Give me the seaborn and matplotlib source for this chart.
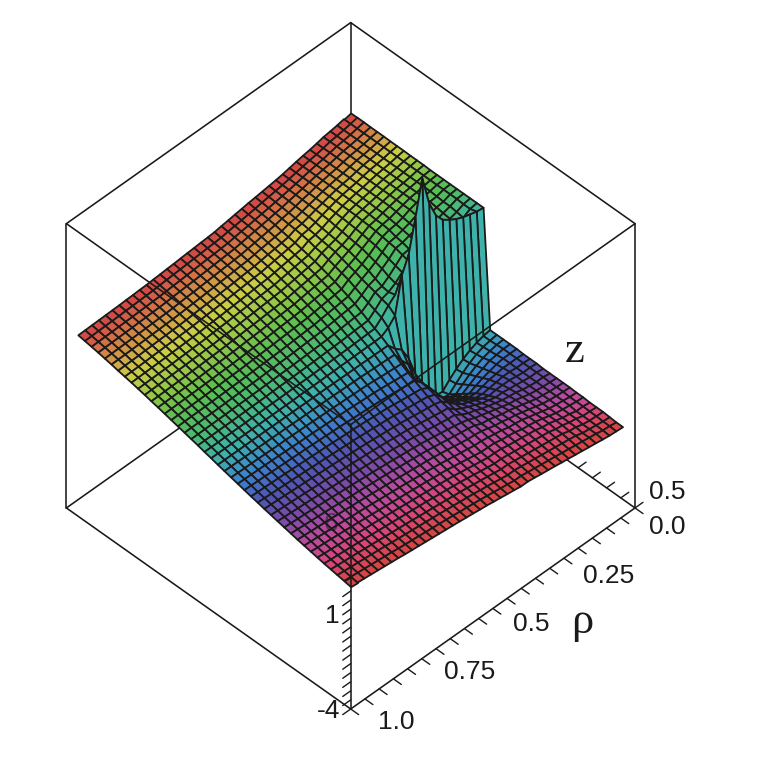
import matplotlib
matplotlib.use('Agg')
import matplotlib.pyplot as plt
from mpl_toolkits.mplot3d.art3d import Poly3DCollection
import numpy as np
import seaborn as sns

# ==== DATA ====
# one row per rho mesh line, one column per z mesh line, values on the vertical axis
HEIGHTS = [
[.45,.45,.48,.51,.51,.51,.54,.54,.56,.56,.56,.56,.56,.59,.59,.59,.62,.62,.62,.62,.62,7.10,7.10,7.10,7.10,7.10,7.10,7.10,7.10,7.10,7.12,7.12,7.12,7.13,7.13,7.13,7.14,7.14,7.14,7.15,7.15,7.15],
[.48,.51,.51,.54,.54,.56,.56,.56,.59,.59,.59,.62,.62,.62,.62,.62,.62,.62,.59,.56,.56,7.15,7.04,7.04,7.07,7.07,7.07,7.07,7.07,7.07,7.07,7.07,7.07,7.07,7.07,7.07,7.07,7.07,7.07,7.07,7.07,7.07],
[.51,.54,.56,.56,.56,.56,.62,.62,.62,.62,.62,.62,.62,.62,.62,.62,.62,.56,.51,.48,.45,7.26,6.82,6.88,6.93,6.93,6.96,6.99,6.99,6.99,6.99,6.99,6.99,6.99,6.99,6.99,6.99,6.99,6.99,6.99,6.99,6.99],
[.56,.62,.62,.62,.67,.67,.67,.67,.67,.67,.67,.67,.67,.67,.67,.62,.56,.51,.40,.34,.29,7.37,6.66,6.77,6.82,6.88,6.93,6.93,6.93,6.93,6.93,6.93,6.93,6.93,6.93,6.93,6.93,6.93,6.93,6.93,6.93,6.93],
[.62,.67,.67,.73,.73,.73,.73,.73,.73,.73,.73,.73,.73,.73,.67,.56,.45,.34,.23,.12,.07,7.54,6.44,6.60,6.71,6.77,6.82,6.88,6.88,6.88,6.88,6.88,6.88,6.88,6.88,6.88,6.88,6.88,6.88,6.88,6.88,6.88],
[.67,.73,.78,.78,.84,.84,.84,.84,.84,.84,.84,.84,.78,.73,.62,.51,.34,.18,.01,-.15,-.21,7.76,6.27,6.44,6.55,6.60,6.71,6.77,6.77,6.79,6.80,6.80,6.80,6.80,6.80,6.80,6.80,6.80,6.80,6.80,6.79,6.79],
[.73,.78,.84,.89,.89,.95,.95,.95,.95,.95,.95,.89,.84,.73,.56,.40,.18,-.04,-.26,-.48,-.54,8.03,6.05,6.27,6.38,6.49,6.55,6.60,6.66,6.70,6.71,6.71,6.71,6.71,6.71,6.71,6.71,6.71,6.71,6.71,6.71,6.71],
[.78,.84,.89,.95,1.00,1.00,1.05,1.05,1.05,1.05,1.00,.95,.84,.67,.51,.29,.01,-.26,-.54,-.81,-.92,8.53,5.89,6.11,6.27,6.38,6.44,6.49,6.55,6.60,6.60,6.63,6.64,6.65,6.65,6.65,6.65,6.65,6.65,6.65,6.65,6.65],
[.84,.89,.95,1.00,1.05,1.11,1.11,1.16,1.16,1.16,1.11,1.05,.95,.78,.56,.34,.07,-.21,-.48,-.76,-.87,9.46,5.78,6.00,6.16,6.27,6.33,6.44,6.49,6.49,6.53,6.55,6.56,6.57,6.58,6.58,6.58,6.58,6.58,6.58,6.58,6.58],
[.89,.95,1.00,1.05,1.11,1.16,1.16,1.22,1.22,1.22,1.22,1.16,1.05,.95,.73,.56,.40,.07,-.26,-.48,-.32,11.11,6.16,6.00,6.11,6.22,6.27,6.33,6.38,6.42,6.44,6.47,6.47,6.48,6.49,6.49,6.50,6.50,6.50,6.50,6.50,6.50],
[.95,1.00,1.05,1.11,1.16,1.22,1.27,1.27,1.33,1.33,1.33,1.27,1.22,1.11,.95,.78,.62,.23,-.15,-.26,.40,9.19,5.78,5.67,5.78,5.89,6.00,6.11,6.16,6.22,6.27,6.30,6.33,6.35,6.37,6.38,6.39,6.40,6.41,6.41,6.42,6.42],
[1.00,1.05,1.11,1.16,1.22,1.27,1.33,1.38,1.38,1.44,1.44,1.44,1.38,1.27,1.16,1.00,.84,.40,.01,.18,1.11,7.43,5.45,5.34,5.45,5.62,5.73,5.84,5.95,6.00,6.05,6.11,6.16,6.22,6.25,6.28,6.30,6.32,6.33,6.34,6.35,6.36],
[1.05,1.11,1.16,1.22,1.27,1.33,1.38,1.44,1.49,1.49,1.55,1.55,1.55,1.55,1.49,1.41,1.33,.89,.62,1.16,2.26,6.55,5.23,5.12,5.18,5.34,5.51,5.62,5.73,5.84,5.89,5.95,6.00,6.05,6.11,6.16,6.19,6.22,6.25,6.27,6.29,6.31],
[1.11,1.16,1.22,1.27,1.33,1.41,1.47,1.52,1.60,1.66,1.71,1.74,1.77,1.88,1.93,1.96,1.99,1.66,1.77,2.43,2.98,4.60,4.90,5.00,5.12,5.22,5.32,5.45,5.56,5.67,5.78,5.84,5.89,5.95,6.00,6.05,6.09,6.13,6.17,6.20,6.23,6.26],
[1.16,1.22,1.27,1.33,1.38,1.44,1.49,1.58,1.66,1.74,1.82,1.99,2.10,2.21,2.32,2.43,2.48,2.43,2.59,2.92,3.31,4.20,4.50,4.65,4.80,4.96,5.12,5.29,5.40,5.51,5.62,5.73,5.78,5.89,5.95,6.00,6.03,6.07,6.11,6.14,6.18,6.21],
[1.16,1.22,1.27,1.33,1.38,1.44,1.50,1.60,1.69,1.80,1.90,2.02,2.15,2.32,2.48,2.65,2.84,3.03,3.25,3.50,3.75,3.97,4.16,4.35,4.55,4.74,4.90,5.04,5.18,5.31,5.42,5.53,5.62,5.70,5.78,5.84,5.91,5.98,6.04,6.08,6.11,6.17],
[1.22,1.28,1.33,1.39,1.44,1.51,1.57,1.67,1.76,1.87,1.97,2.09,2.22,2.38,2.54,2.70,2.88,3.07,3.28,3.52,3.75,3.96,4.15,4.33,4.52,4.70,4.85,4.99,5.13,5.25,5.36,5.47,5.56,5.64,5.72,5.78,5.85,5.92,5.98,6.02,6.06,6.11],
[1.27,1.33,1.39,1.45,1.50,1.57,1.64,1.73,1.83,1.93,2.04,2.15,2.28,2.43,2.59,2.75,2.93,3.11,3.31,3.54,3.76,3.96,4.13,4.31,4.48,4.66,4.80,4.94,5.07,5.19,5.30,5.41,5.50,5.58,5.66,5.72,5.79,5.86,5.92,5.96,6.00,6.06],
[1.33,1.39,1.45,1.51,1.57,1.64,1.71,1.80,1.90,2.00,2.11,2.22,2.35,2.49,2.65,2.80,2.97,3.16,3.34,3.55,3.76,3.95,4.12,4.28,4.45,4.61,4.76,4.89,5.02,5.14,5.24,5.34,5.43,5.52,5.60,5.67,5.74,5.80,5.86,5.91,5.95,6.00],
[1.38,1.44,1.50,1.56,1.63,1.70,1.78,1.86,1.96,2.06,2.17,2.28,2.41,2.55,2.70,2.85,3.02,3.20,3.38,3.57,3.77,3.95,4.10,4.26,4.41,4.57,4.71,4.84,4.96,5.08,5.18,5.28,5.37,5.46,5.54,5.61,5.68,5.74,5.80,5.85,5.90,5.95],
[1.44,1.50,1.56,1.62,1.69,1.77,1.85,1.93,2.03,2.13,2.24,2.35,2.48,2.61,2.76,2.91,3.06,3.24,3.41,3.59,3.77,3.94,4.09,4.24,4.38,4.53,4.66,4.79,4.91,5.02,5.12,5.22,5.31,5.40,5.48,5.55,5.62,5.68,5.74,5.79,5.84,5.89],
[1.48,1.54,1.61,1.67,1.74,1.82,1.90,1.98,2.08,2.18,2.28,2.40,2.52,2.65,2.80,2.94,3.09,3.26,3.43,3.60,3.77,3.94,4.08,4.23,4.36,4.51,4.64,4.76,4.88,4.99,5.09,5.19,5.28,5.37,5.45,5.52,5.59,5.65,5.71,5.76,5.81,5.86],
[1.53,1.59,1.65,1.71,1.79,1.86,1.94,2.03,2.12,2.22,2.33,2.44,2.56,2.69,2.83,2.97,3.12,3.28,3.44,3.61,3.78,3.93,4.07,4.22,4.35,4.49,4.61,4.74,4.85,4.96,5.06,5.16,5.25,5.34,5.42,5.49,5.56,5.62,5.68,5.73,5.79,5.84],
[1.57,1.63,1.70,1.76,1.83,1.91,1.99,2.07,2.17,2.27,2.37,2.49,2.61,2.73,2.87,3.01,3.14,3.31,3.46,3.62,3.78,3.93,4.07,4.20,4.33,4.47,4.59,4.71,4.83,4.93,5.03,5.13,5.22,5.30,5.38,5.45,5.52,5.59,5.65,5.71,5.76,5.81],
[1.62,1.68,1.74,1.80,1.88,1.95,2.03,2.12,2.21,2.31,2.42,2.53,2.65,2.77,2.90,3.04,3.17,3.33,3.47,3.63,3.79,3.92,4.06,4.19,4.32,4.45,4.56,4.69,4.80,4.90,5.00,5.10,5.19,5.27,5.35,5.42,5.49,5.56,5.62,5.68,5.74,5.79],
[1.66,1.72,1.79,1.85,1.93,2.00,2.08,2.17,2.26,2.36,2.46,2.58,2.69,2.81,2.94,3.07,3.20,3.35,3.49,3.64,3.79,3.92,4.05,4.18,4.30,4.43,4.54,4.66,4.77,4.87,4.97,5.07,5.16,5.24,5.32,5.39,5.46,5.53,5.59,5.65,5.71,5.76],
[1.70,1.76,1.83,1.89,1.97,2.04,2.12,2.21,2.30,2.40,2.50,2.61,2.72,2.84,2.97,3.09,3.22,3.36,3.50,3.65,3.79,3.92,4.05,4.17,4.29,4.42,4.52,4.64,4.75,4.85,4.95,5.04,5.13,5.21,5.29,5.36,5.43,5.50,5.56,5.62,5.68,5.73],
[1.74,1.80,1.87,1.93,2.01,2.08,2.16,2.25,2.34,2.44,2.54,2.64,2.75,2.87,2.99,3.11,3.24,3.38,3.51,3.65,3.79,3.92,4.04,4.16,4.28,4.40,4.51,4.62,4.73,4.83,4.92,5.01,5.10,5.18,5.26,5.33,5.40,5.47,5.54,5.59,5.66,5.71],
[1.78,1.84,1.91,1.98,2.05,2.13,2.20,2.29,2.38,2.47,2.57,2.68,2.79,2.90,3.02,3.14,3.26,3.39,3.53,3.66,3.80,3.91,4.04,4.16,4.27,4.39,4.49,4.60,4.70,4.80,4.90,4.99,5.08,5.16,5.24,5.31,5.38,5.45,5.51,5.57,5.63,5.68],
[1.82,1.88,1.95,2.02,2.09,2.17,2.24,2.33,2.42,2.51,2.61,2.71,2.82,2.93,3.04,3.16,3.28,3.41,3.54,3.66,3.80,3.91,4.03,4.15,4.26,4.37,4.48,4.58,4.68,4.78,4.87,4.96,5.05,5.13,5.21,5.28,5.35,5.42,5.49,5.54,5.61,5.66],
[1.86,1.92,1.99,2.06,2.13,2.21,2.28,2.37,2.46,2.55,2.65,2.74,2.85,2.96,3.07,3.18,3.30,3.42,3.55,3.67,3.80,3.91,4.03,4.14,4.25,4.36,4.46,4.56,4.66,4.76,4.85,4.93,5.02,5.10,5.18,5.25,5.32,5.39,5.46,5.51,5.58,5.63],
[1.90,1.96,2.03,2.10,2.17,2.25,2.32,2.41,2.50,2.58,2.68,2.77,2.88,2.98,3.09,3.20,3.32,3.43,3.56,3.68,3.80,3.91,4.03,4.13,4.24,4.35,4.45,4.55,4.65,4.75,4.83,4.92,5.00,5.08,5.16,5.23,5.30,5.37,5.44,5.50,5.56,5.62],
[1.94,2.00,2.07,2.14,2.21,2.29,2.36,2.45,2.53,2.62,2.71,2.80,2.91,3.01,3.11,3.22,3.33,3.45,3.57,3.68,3.80,3.91,4.02,4.13,4.23,4.34,4.44,4.54,4.64,4.73,4.82,4.90,4.99,5.07,5.15,5.22,5.29,5.36,5.43,5.48,5.55,5.60],
[1.99,2.05,2.12,2.18,2.25,2.32,2.40,2.48,2.57,2.65,2.75,2.84,2.93,3.03,3.14,3.24,3.35,3.46,3.57,3.69,3.81,3.91,4.02,4.12,4.23,4.33,4.43,4.52,4.62,4.72,4.80,4.89,4.97,5.05,5.13,5.20,5.27,5.34,5.41,5.47,5.53,5.59],
[2.03,2.09,2.16,2.22,2.29,2.36,2.44,2.52,2.60,2.69,2.78,2.87,2.96,3.06,3.16,3.26,3.36,3.48,3.58,3.69,3.81,3.91,4.01,4.12,4.22,4.32,4.42,4.51,4.61,4.70,4.79,4.87,4.96,5.04,5.12,5.19,5.26,5.33,5.40,5.45,5.52,5.57],
[2.07,2.13,2.20,2.26,2.33,2.40,2.48,2.56,2.64,2.72,2.81,2.90,2.99,3.08,3.18,3.28,3.38,3.49,3.59,3.70,3.81,3.91,4.01,4.11,4.21,4.31,4.41,4.50,4.60,4.69,4.77,4.86,4.94,5.02,5.10,5.17,5.24,5.31,5.38,5.44,5.50,5.56],
[2.11,2.17,2.24,2.30,2.37,2.44,2.51,2.59,2.67,2.75,2.84,2.93,3.01,3.10,3.20,3.30,3.39,3.50,3.60,3.70,3.81,3.91,4.01,4.11,4.21,4.30,4.40,4.49,4.59,4.68,4.76,4.85,4.93,5.01,5.09,5.16,5.23,5.30,5.37,5.43,5.49,5.55],
[2.15,2.21,2.28,2.34,2.40,2.47,2.55,2.62,2.70,2.78,2.87,2.95,3.04,3.13,3.22,3.31,3.41,3.51,3.61,3.71,3.81,3.91,4.01,4.11,4.20,4.30,4.39,4.48,4.58,4.67,4.75,4.84,4.92,5.00,5.07,5.14,5.22,5.29,5.36,5.42,5.48,5.54],
[2.19,2.25,2.31,2.37,2.44,2.51,2.58,2.66,2.73,2.81,2.89,2.98,3.06,3.15,3.24,3.33,3.42,3.52,3.61,3.71,3.81,3.91,4.00,4.10,4.20,4.29,4.39,4.48,4.57,4.66,4.74,4.83,4.91,4.99,5.06,5.13,5.21,5.28,5.35,5.41,5.47,5.53],
[2.23,2.29,2.35,2.41,2.47,2.54,2.61,2.69,2.76,2.84,2.92,3.00,3.09,3.17,3.26,3.34,3.44,3.53,3.62,3.72,3.81,3.91,4.00,4.10,4.19,4.29,4.38,4.47,4.56,4.65,4.73,4.82,4.90,4.98,5.05,5.12,5.20,5.27,5.34,5.40,5.46,5.52],
[2.27,2.33,2.39,2.45,2.51,2.58,2.65,2.72,2.79,2.87,2.95,3.03,3.11,3.19,3.28,3.36,3.45,3.54,3.63,3.72,3.81,3.91,4.00,4.10,4.19,4.28,4.37,4.46,4.55,4.64,4.72,4.81,4.89,4.97,5.04,5.11,5.19,5.26,5.33,5.39,5.45,5.51],
]
RHO_TICKS = [0.0, 0.25, 0.5, 0.75, 1.0]
VERT_LABELS = [-4, 1, 6]
# colours seen along a rho mesh line, from the low edge to the high edge
HUE_STOPS = ['#d74646', '#d7467d', '#b94ba0', '#7d4baa', '#5055b4', '#3c82cd', '#3cb2ac',
             '#4bb973', '#5abe50', '#96c846', '#cdcd46', '#d28c46', '#d44b46']

# ==== CONFIG ====
RHO_MIN, RHO_MAX = 0.0, 1.0
Z_MIN, Z_MAX = -0.5, 0.5
V_MIN, V_MAX = -4.0, 11.66
INK = '#1a1a1a'

sns.set_style('white')
plt.rcParams['font.family'] = ['Liberation Sans', 'DejaVu Sans']

fig = plt.figure(figsize=(7.7, 7.7), dpi=100, facecolor='white')
ax = fig.add_axes([-44.7 / 770, 8.8 / 770, 1, 1], projection='3d', computed_zorder=False)
ax.set_proj_type('ortho')
ax.view_init(elev=45, azim=45)
ax.set_box_aspect((1, 1, 1), zoom=0.878)
ax.set_xlim(RHO_MIN, RHO_MAX)
ax.set_ylim(Z_MIN, Z_MAX)
ax.set_zlim(V_MIN, V_MAX)
ax.set_axis_off()

heights = np.array(HEIGHTS)
rho = np.linspace(0.021, 0.979, heights.shape[0])
zed = np.linspace(0.479, -0.479, heights.shape[1])

palette = sns.blend_palette(HUE_STOPS, n_colors=heights.shape[1] - 1)


def edge(a, b, order, lw=1.15):
    ax.plot([a[0], b[0]], [a[1], b[1]], [a[2], b[2]], color=INK, lw=lw, zorder=order, solid_capstyle='round')


# back of the box, hidden by the surface
for a, b in [
    ((0, .5, V_MIN), (0, -.5, V_MIN)), ((1, -.5, V_MIN), (0, -.5, V_MIN)),
    ((0, -.5, V_MIN), (0, -.5, V_MAX)), ((0, -.5, V_MAX), (1, -.5, V_MAX)),
    ((0, -.5, V_MAX), (0, .5, V_MAX)), ((0, .5, V_MIN), (0, .5, V_MAX)),
    ((1, -.5, V_MIN), (1, -.5, V_MAX)),
]:
    edge(a, b, 1)
for z in np.arange(0.5, -0.5, -0.05):
    edge((0, z, V_MIN), (-0.028, z, V_MIN), 1, lw=1.0)

# cells go back to front along the view direction, one diagonal at a time
n_rho, n_zed = heights.shape
for k, diag in enumerate(range(-(n_zed - 2), n_rho - 1)):
    verts, fills = [], []
    for i in range(n_rho - 1):
        j = i - diag
        if 0 <= j < n_zed - 1:
            verts.append([(rho[a], zed[b], heights[a, b])
                          for a, b in [(i, j), (i + 1, j), (i + 1, j + 1), (i, j + 1)]])
            fills.append(palette[j])
    cells = Poly3DCollection(verts, facecolors=fills, edgecolors=INK, linewidths=1.3, zorder=2 + k / 100)
    ax.add_collection3d(cells)

# front of the box, drawn over the surface
for a, b in [
    ((1, .5, V_MIN), (0, .5, V_MIN)), ((1, .5, V_MIN), (1, -.5, V_MIN)),
    ((1, .5, V_MIN), (1, .5, V_MAX)), ((1, .5, V_MAX), (0, .5, V_MAX)),
    ((1, .5, V_MAX), (1, -.5, V_MAX)),
]:
    edge(a, b, 3)
for r in np.arange(0, 1.01, 0.05):
    edge((r, .5, V_MIN), (r, .528, V_MIN), 3, lw=1.0)
for v in np.arange(V_MIN, 3.0, 0.5):
    edge((1, .5, v), (1.028, .5, v), 3, lw=1.0)


def label(x, y, s, **kw):
    fig.text(x / 770, 1 - y / 770, s, ha='center', va='center', color=INK, **kw)


for s, (x, y) in zip(RHO_TICKS, [(667, 527), (609, 576), (531, 624), (470, 672), (396, 722)]):
    label(x, y, str(s), fontsize=19)
label(667, 492, '0.5', fontsize=19)
for s, (x, y) in zip(VERT_LABELS, [(329, 711), (332, 616), (331, 524)]):
    label(x, y, str(s), fontsize=19, alpha=1 if s < 6 else 0.55)
label(582, 622, 'ρ', fontsize=32, family=['Liberation Serif', 'DejaVu Serif'])
label(575, 351, 'z', fontsize=32, family=['Liberation Serif', 'DejaVu Serif'])

fig.savefig('out.png', dpi=100)
